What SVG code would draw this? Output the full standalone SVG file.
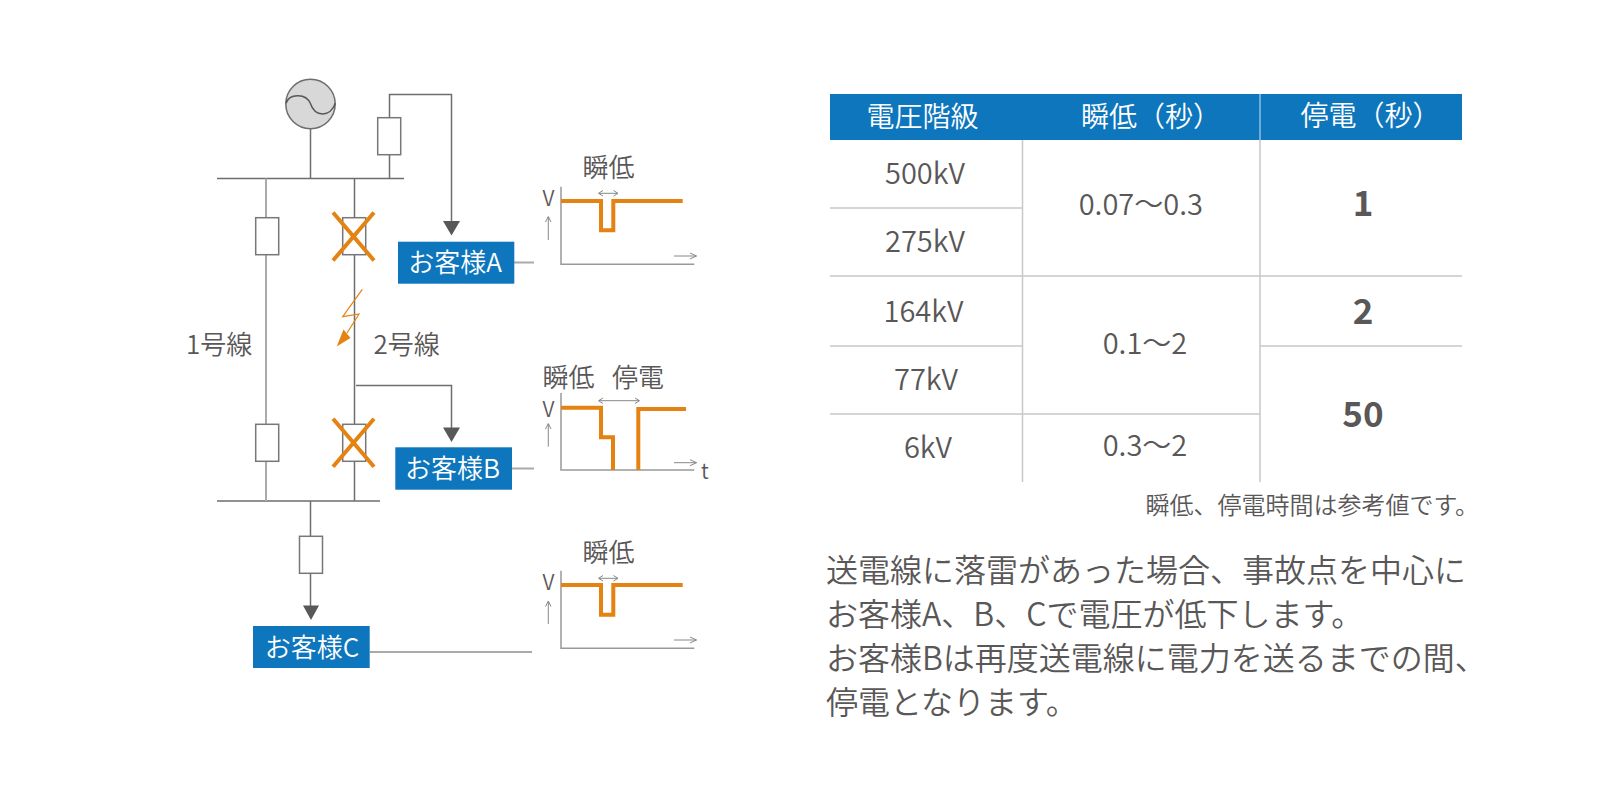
<svg xmlns="http://www.w3.org/2000/svg" width="1600" height="800" viewBox="0 0 1600 800">
<style>
text{font-family:"Noto Sans CJK JP","Noto Sans",sans-serif;fill:#595757;font-weight:350}
.m{text-anchor:middle}
.w{fill:#fff}
.b{font-weight:700;font-size:35px}
.l{fill:none;stroke:#6e6e6e;stroke-width:1.5}
.g{fill:none;stroke:#aaa;stroke-width:2}
.box{fill:#fff;stroke:#777;stroke-width:1.5}
.o{fill:none;stroke:#e48312;stroke-width:4}
.ax{fill:none;stroke:#999;stroke-width:1.5}
.ar{fill:none;stroke:#888;stroke-width:1}
.t{stroke:#c8c8c8;stroke-width:1.5;fill:none}
.blue{fill:#0e76bc}
.tip{fill:#595757}
.t26{font-size:26px}
.t28{font-size:28px}
.t29{font-size:29px}
.t21{font-size:21px}
.t24{font-size:24px}
.t32{font-size:32px}
</style>
<rect width="1600" height="800" fill="#fff"/>
<g id="connectors">
<path class="l" d="M217 178.500H404M310.500 129V178.500M389.500 178.500V94.500H451.500V222M354.500 178.500V501M356 385.500H451.500V429M217 501H380M310.500 501V607"/>
<path class="g" d="M266 178.500V501M514 262.500H534M512 468.500H534M369.700 652H532"/>
<path class="tip" d="M443 221H460L451.500 235.500ZM443 427.500H460L451.500 442ZM303 605.500H319L311 620Z"/>
</g>
<g id="generator">
<circle cx="310.500" cy="104" r="24.700" fill="#d8d8d8" stroke="#6e6e6e" stroke-width="1.500"/>
<path d="M286 103.300C288 97 293 95.500 298.300 95.700C303 95.800 308 98 310.300 103.300C312.500 110 317 114 322.700 114C328 114 333 110 335.300 103.300" fill="none" stroke="#595757" stroke-width="1.500"/>
</g>
<g id="breaker-a"><rect class="box" x="377.700" y="117.700" width="23" height="37"/></g>
<g id="breaker-1-top"><rect class="box" x="255.700" y="217.700" width="23" height="37"/></g>
<g id="breaker-2-top"><rect class="box" x="342.700" y="217.700" width="23" height="37"/><path class="o" d="M333 212.500L374 260.500M374 212.500L333 260.500"/></g>
<g id="breaker-1-bottom"><rect class="box" x="255.700" y="424.300" width="23" height="37"/></g>
<g id="breaker-2-bottom"><rect class="box" x="342.700" y="424.300" width="23" height="37"/><path class="o" d="M333 418.700L374 466.700M374 418.700L333 466.700"/></g>
<g id="breaker-c"><rect class="box" x="299.500" y="536.300" width="23" height="37"/></g>
<g id="lightning"><path d="M362.300 289.300L342.700 316.700L359 314L347 333" fill="none" stroke="#e48312" stroke-width="1.200"/><path d="M336.700 346.500L343.500 329.500L350.500 338Z" fill="#e48312"/></g>
<g id="label-line1"><text class="t26" x="186" y="354">1号線</text></g>
<g id="label-line2"><text class="t26" x="373.500" y="354">2号線</text></g>
<g id="customer-a"><rect class="blue" x="398" y="241.700" width="116.300" height="42"/><text class="w m t26" x="455" y="272">お客様A</text></g>
<g id="customer-b"><rect class="blue" x="395.300" y="447.300" width="116.700" height="42.400"/><text class="w m t26" x="452.500" y="478">お客様B</text></g>
<g id="customer-c"><rect class="blue" x="253" y="626" width="116.700" height="42"/><text class="w m t26" x="312" y="656.500">お客様C</text></g>
<g id="chart-a">
<path class="ax" d="M561 186.700V264.300H694.300"/>
<path class="o" d="M561 201H601V230.300H613.300V201H682.700"/>
<path class="ar" d="M599 193.300H617.500M603 190.500L598.500 193.300L603 196M613.500 190.500L618 193.300L613.500 196M548.300 240V217M545.500 222L548.300 216.500L551 222M674 256H696.500M690 253L696.500 256L690 259"/>
<text class="t21" x="542.500" y="206">V</text><text class="t26" x="582.500" y="177">瞬低</text>
</g>
<g id="chart-b">
<path class="ax" d="M561 393V470H694.300"/>
<path class="o" d="M561 407.700H601V437.300H613V470M638.300 470V409H686"/>
<path class="ar" d="M599 400.700H639M603 398L598.500 400.700L603 403.500M635 398L639.500 400.700L635 403.500M548.300 446.700V424M545.500 429L548.300 423.500L551 429M674 462.700H696.500M690 459.700L696.500 462.700L690 465.700"/>
<text class="t21" x="542.500" y="416.500">V</text><text class="t26" x="542.500" y="387">瞬低</text><text class="t26" x="612" y="387">停電</text><text class="t21" x="701" y="479">t</text>
</g>
<g id="chart-c">
<path class="ax" d="M561 570.700V648.300H694.300"/>
<path class="o" d="M561 585H601V614.700H613.300V585H682.700"/>
<path class="ar" d="M599 578.300H617.500M603 575.500L598.500 578.300L603 581M613.500 575.500L618 578.300L613.500 581M548.300 624V601.500M545.500 606.500L548.300 601L551 606.500M674 640H696.500M690 637L696.500 640L690 643"/>
<text class="t21" x="542.500" y="590">V</text><text class="t26" x="582.500" y="562">瞬低</text>
</g>
<g id="table">
<rect class="blue" x="830" y="94" width="632" height="46"/>
<path d="M1260 94V140" stroke="#8fbfe0" stroke-width="1.500" fill="none"/>
<path class="t" d="M1022.500 140V482M1260 140V482M830 208H1022.500M830 276H1462M830 346H1022.500M1260 346H1462M830 414H1260"/>
<text class="w m t28" x="922.500" y="127">電圧階級</text>
<text class="w m t28" x="1151" y="127">瞬低（秒）</text>
<text class="w m t28" x="1370.500" y="126">停電（秒）</text>
<text class="m t29" x="925" y="184">500kV</text>
<text class="m t29" x="925" y="252">275kV</text>
<text class="m t29" x="923.500" y="322">164kV</text>
<text class="m t29" x="926" y="390">77kV</text>
<text class="m t29" x="928" y="458">6kV</text>
<text class="m t29" x="1140.800" y="215">0.07〜0.3</text>
<text class="m t29" x="1145" y="354">0.1〜2</text>
<text class="m t29" x="1145" y="456">0.3〜2</text>
<text class="m b" x="1363" y="216">1</text>
<text class="m b" x="1363" y="324">2</text>
<text class="m b" x="1363" y="427">50</text>
<text class="t24" text-anchor="end" x="1479" y="514">瞬低、停電時間は参考値です。</text>
</g>
<g id="description">
<text class="t32" x="826" y="582">送電線に落雷があった場合、事故点を中心に</text>
<text class="t32" x="826" y="626">お客様A、B、Cで電圧が低下します。</text>
<text class="t32" x="826" y="670">お客様Bは再度送電線に電力を送るまでの間、</text>
<text class="t32" x="826" y="714">停電となります。</text>
</g>
</svg>
